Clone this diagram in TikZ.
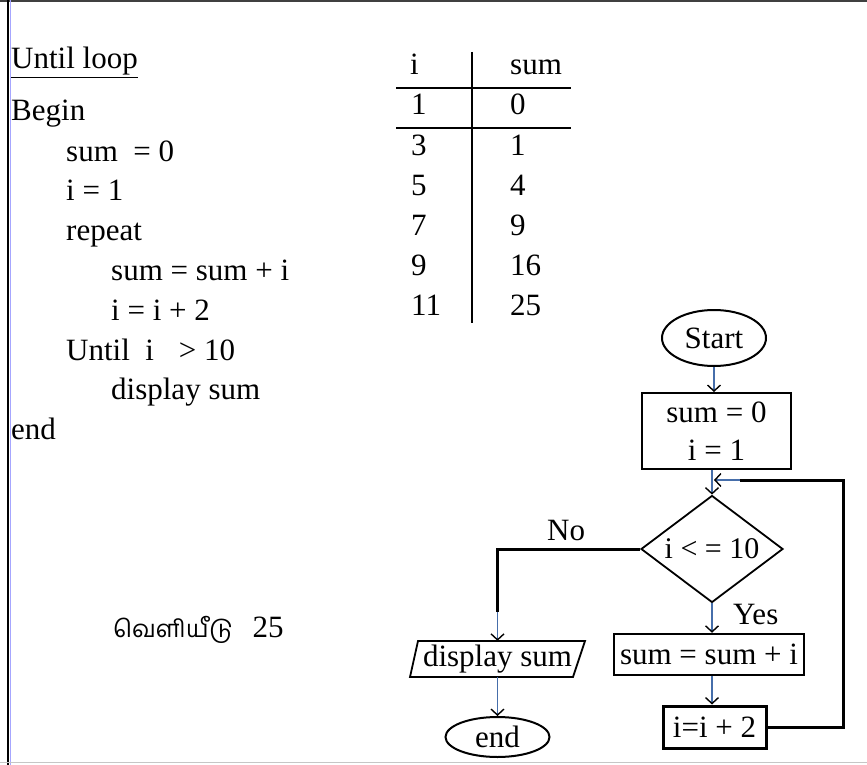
\documentclass[tikz,border=0pt]{standalone}
\usepackage{fontspec}
\setmainfont{Liberation Serif}
\newfontfamily\tamilfont[Script=Tamil]{Hind Madurai}
\usetikzlibrary{arrows.meta,shapes.geometric}
\definecolor{arrowc}{RGB}{70,110,170}
\begin{document}
\begin{tikzpicture}[x=1pt,y=-1pt,
  txt/.style={anchor=base west,inner sep=0pt,font=\fontsize{31}{31}\selectfont},
  fl/.style={inner sep=0pt,font=\fontsize{31}{40}\selectfont,align=center},
  conn/.style={draw=arrowc,line width=1.4pt,-{Straight Barb[length=6pt,width=13pt,color=black,line width=1.4pt]}},
  bline/.style={draw=black,line width=3pt},
  lbl/.style={anchor=base west,inner sep=0pt,font=\fontsize{31}{31}\selectfont}]
\useasboundingbox (0,0) rectangle (867,765);
% frame
\draw[black!75,line width=2pt] (0,1) -- (867,1);
\draw[black,line width=2.5pt] (8,0) -- (8,765);
\draw[blue!35,line width=1.5pt] (10.5,0) -- (10.5,765);
\draw[gray!45,line width=1.5pt] (0,762.5) -- (867,762.5);
% pseudo code
\node[txt] (c0) at (11,69) {\underline{Until loop}};
\node[txt] (c1) at (11,121) {Begin};
\node[txt] (c2) at (66,161) {sum\hspace{0.5em}= 0};
\node[txt] (c3) at (66,200) {i = 1};
\node[txt] (c4) at (66,240) {repeat};
\node[txt] (c5) at (111,280) {sum = sum + i};
\node[txt] (c6) at (111,320) {i = i + 2};
\node[txt] (c7) at (66,360) {Until\hspace{0.5em}i\hspace{0.8em}{>} 10};
\node[txt] (c8) at (111,399) {display sum};
\node[txt] (c9) at (11,439) {end};
% table
\draw[line width=2.2pt] (472,52) -- (472,323);
\draw[line width=1.6pt] (396,88) -- (571,88);
\draw[line width=1.6pt] (396,128) -- (571,128);
\node[txt] (ti) at (410,75) {i};
\node[txt] (ts) at (510,75) {sum};
\node[txt] (a1) at (411,115) {1};
\node[txt] (b1) at (510,115) {0};
\node[txt] (a2) at (411,155) {3};
\node[txt] (b2) at (510,155) {1};
\node[txt] (a3) at (411,195) {5};
\node[txt] (b3) at (510,195) {4};
\node[txt] (a4) at (411,235) {7};
\node[txt] (b4) at (510,235) {9};
\node[txt] (a5) at (411,275) {9};
\node[txt] (b5) at (510,275) {16};
\node[txt] (a6) at (411,315) {11};
\node[txt] (b6) at (510,315) {25};
% tamil output
\node[anchor=base west,inner sep=0pt] (out) at (113,637) {\fontsize{24}{24}\tamilfont வெளியீடு\hspace{20pt}\fontsize{31}{31}\rmfamily 25};
% flowchart
\node[fl,draw,ellipse,line width=2pt,minimum width=104pt,minimum height=56pt] (start) at (714,338) {Start};
\node[fl,draw,rectangle,line width=2pt,minimum width=149pt,minimum height=76pt] (init) at (716.5,431) {sum = 0\\[-2pt] i = 1};
\node[fl,draw,diamond,aspect=1.33,line width=1.8pt,minimum width=142pt,minimum height=107pt,font=\fontsize{30}{30}\selectfont] (dec) at (712,549) {i {<} = 10};
\node[fl,draw,rectangle,line width=2.5pt,minimum width=190pt,minimum height=41pt] (sum2) at (709,654.5) {sum = sum + i};
\node[fl,draw,rectangle,line width=3pt,minimum width=103pt,minimum height=42pt] (inc) at (714.5,727) {i=i + 2};
\node[fl,minimum width=165pt,minimum height=36pt] (disp) at (497.5,659) {display sum};
\draw[line width=1.8pt] (410,677) -- (418,641) -- (585,641) -- (573,677) -- cycle;
\node[fl,draw,ellipse,line width=2pt,minimum width=104pt,minimum height=40pt] (end) at (497.5,737) {end};
% labels
\node[lbl] (no) at (547,540) {No};
\node[lbl] (yes) at (733,624) {Yes};
% connectors
\draw[conn] (start.south) -- (start.south |- init.north);
\draw[conn] (dec.north |- init.south) -- (dec.north);
\draw[conn] (dec.south) -- (dec.south |- sum2.north);
\draw[conn] (dec.south |- sum2.south) -- (dec.south |- inc.north);
\coordinate (lp) at (843,480);
\coordinate (lj) at (740,480);
\coordinate (lt) at (714,480);
\draw[bline] (inc.east) -| (lp) -- (lj);
\draw[conn] (lj) -- (lt);
\coordinate (nob) at (497.5,612);
\draw[bline] (dec.west) -| (nob);
\draw[conn] (nob) -- (disp.north);
\draw[conn] (disp.south) -- (end.north);
\end{tikzpicture}
\end{document}
